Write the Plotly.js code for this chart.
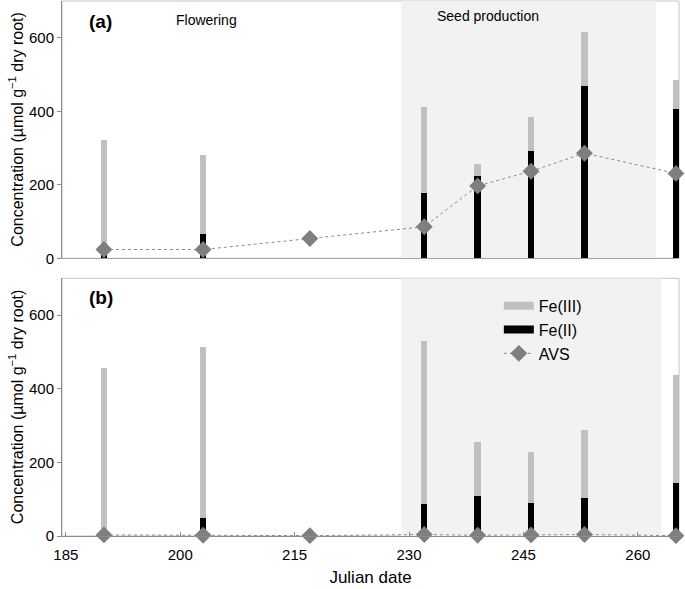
<!DOCTYPE html>
<html>
<head>
<meta charset="utf-8">
<script src="https://cdn.plot.ly/plotly-3.0.1.min.js"></script>
<style>html,body{margin:0;padding:0;background:#fff;}#chart{width:685px;height:589px;}</style>
</head>
<body>
<div id="chart"></div>
<script>
// Julian dates of sampling
const dates = [190, 203, 217, 232, 239, 246, 253, 265];
// Panel (a)
const feIIa  = [10, 65, null, 179, 223, 291, 469, 407];
const feIIIa = [313, 215, null, 234, 33, 94, 146, 77];
const avsA   = [24, 24, 54, 86, 197, 237, 286, 231];
// Panel (b)
const feIIb  = [2, 49, null, 88, 109, 90, 103, 145];
const feIIIb = [453, 464, null, 441, 146, 137, 185, 293];
const avsB   = [3, 2, 1, 4, 2, 3, 4, 1];
// Axis ticks
const yTicks = [0, 200, 400, 600];
const xTicks = [185, 200, 215, 230, 245, 260];
const seriesNames = ['Fe(III)', 'Fe(II)', 'AVS'];
const phaseLabels = ['Flowering', 'Seed production'];
const panelLabels = ['(a)', '(b)'];
const yTitle = 'Concentration (µmol g<sup>−1</sup> dry root)';

const FONT = 'Liberation Sans, Arial, sans-serif';
const GRAY = '#c0c0c0', BLACK = '#000000', AVSC = '#7f7f7f';
const BW = 0.83;

function bars(y, color, xa, ya) {
  return {type: 'bar', x: dates, y: y, width: BW, marker: {color: color, line: {width: 0}},
          xaxis: xa, yaxis: ya, showlegend: false, hoverinfo: 'skip'};
}
function avs(y, xa, ya) {
  return {type: 'scatter', mode: 'lines+markers', x: dates, y: y, xaxis: xa, yaxis: ya,
          line: {color: '#8a8a8a', width: 1, dash: 'dot'},
          marker: {symbol: 'diamond', size: 13, color: AVSC}, cliponaxis: false,
          showlegend: false, hoverinfo: 'skip'};
}

const traces = [
  bars(feIIa, BLACK, 'x', 'y'),
  bars(feIIIa, GRAY, 'x', 'y'),
  avs(avsA, 'x', 'y'),
  bars(feIIb, BLACK, 'x2', 'y2'),
  bars(feIIIb, GRAY, 'x2', 'y2'),
  avs(avsB, 'x2', 'y2'),
  // legend entries
  {type: 'scatter', mode: 'lines', x: [null], y: [null], xaxis: 'x2', yaxis: 'y2', name: seriesNames[0],
   line: {color: GRAY, width: 8}, legendgroup: 'a'},
  {type: 'scatter', mode: 'lines', x: [null], y: [null], xaxis: 'x2', yaxis: 'y2', name: seriesNames[1],
   line: {color: BLACK, width: 8}, legendgroup: 'b'},
  {type: 'scatter', mode: 'lines+markers', x: [null], y: [null], xaxis: 'x2', yaxis: 'y2', name: seriesNames[2],
   line: {color: '#8a8a8a', width: 1, dash: 'dot'}, marker: {symbol: 'diamond', size: 13, color: AVSC}, legendgroup: 'c'}
];

const XR = [184.5, 265.4];
const yAxisCommon = {range: [0, 700], tickvals: yTicks, ticktext: yTicks.map(String), ticks: 'outside', ticklen: 4,
  tickcolor: '#8c8c8c', showline: true, linecolor: '#8c8c8c', linewidth: 1, showgrid: false, zeroline: false,
  tickfont: {family: FONT, size: 15, color: '#000'}, fixedrange: true};

const layout = {
  width: 685, height: 589,
  margin: {l: 62, r: 6, t: 1, b: 53},
  paper_bgcolor: '#fff', plot_bgcolor: '#fff',
  barmode: 'stack', bargap: 0,
  font: {family: FONT, color: '#000'},
  xaxis: {range: XR, anchor: 'y', showticklabels: false, ticks: '', showline: true, linecolor: '#a0a0a0',
          showgrid: false, zeroline: false},
  yaxis: Object.assign({}, yAxisCommon, {domain: [0.519, 1], anchor: 'x'}),
  xaxis2: {range: XR, anchor: 'y2', tickvals: xTicks, ticktext: xTicks.map(String), ticks: 'inside', ticklen: 4,
           tickcolor: '#8c8c8c', showline: true, linecolor: '#8c8c8c', showgrid: false, zeroline: false,
           ticklabelstandoff: 5,
           tickfont: {family: FONT, size: 15, color: '#000'},
           title: {text: 'Julian date', font: {family: FONT, size: 17, color: '#000'}, standoff: 9}},
  yaxis2: Object.assign({}, yAxisCommon, {domain: [0, 0.4817], anchor: 'x2'}),
  legend: {x: 0.708, xanchor: 'left', y: 0.462, yanchor: 'top', bgcolor: 'rgba(0,0,0,0)',
           font: {family: FONT, size: 16, color: '#000'}, tracegroupgap: 9, traceorder: 'normal'},
  shapes: [
    {type: 'rect', xref: 'x', yref: 'y', x0: 229, x1: 262.4, y0: 0, y1: 700, fillcolor: '#f2f2f2', line: {width: 0}, layer: 'below'},
    {type: 'rect', xref: 'x2', yref: 'y2', x0: 229, x1: 263.1, y0: 0, y1: 700, fillcolor: '#f2f2f2', line: {width: 0}, layer: 'below'},
    {type: 'rect', xref: 'x domain', yref: 'y domain', x0: 0, x1: 1, y0: 0, y1: 1, line: {color: '#c4c4c4', width: 1}, layer: 'below'},
    {type: 'rect', xref: 'x2 domain', yref: 'y2 domain', x0: 0, x1: 1, y0: 0, y1: 1, line: {color: '#c4c4c4', width: 1}, layer: 'below'}
  ],
  annotations: [
    {xref: 'x domain', yref: 'y domain', x: 0.04, y: 0.92, xanchor: 'left', yanchor: 'middle', text: '<b>' + panelLabels[0] + '</b>',
     showarrow: false, font: {family: FONT, size: 19, color: '#000'}},
    {xref: 'x2 domain', yref: 'y2 domain', x: 0.04, y: 0.925, xanchor: 'left', yanchor: 'middle', text: '<b>' + panelLabels[1] + '</b>',
     showarrow: false, font: {family: FONT, size: 19, color: '#000'}},
    {xref: 'x', yref: 'y domain', x: 203.5, y: 0.925, xanchor: 'center', yanchor: 'middle', text: phaseLabels[0],
     showarrow: false, font: {family: FONT, size: 14, color: '#000'}},
    {xref: 'x', yref: 'y domain', x: 240.3, y: 0.94, xanchor: 'center', yanchor: 'middle', text: phaseLabels[1],
     showarrow: false, font: {family: FONT, size: 14, color: '#000'}},
    {xref: 'paper', yref: 'y domain', x: 0, xshift: -46, y: 0.5, xanchor: 'center', yanchor: 'middle', textangle: -90,
     text: yTitle, showarrow: false, font: {family: FONT, size: 16, color: '#000'}},
    {xref: 'paper', yref: 'y2 domain', x: 0, xshift: -46, y: 0.5, xanchor: 'center', yanchor: 'middle', textangle: -90,
     text: yTitle, showarrow: false, font: {family: FONT, size: 16, color: '#000'}}
  ]
};

Plotly.newPlot('chart', traces, layout, {displayModeBar: false, staticPlot: true});
</script>
</body>
</html>
